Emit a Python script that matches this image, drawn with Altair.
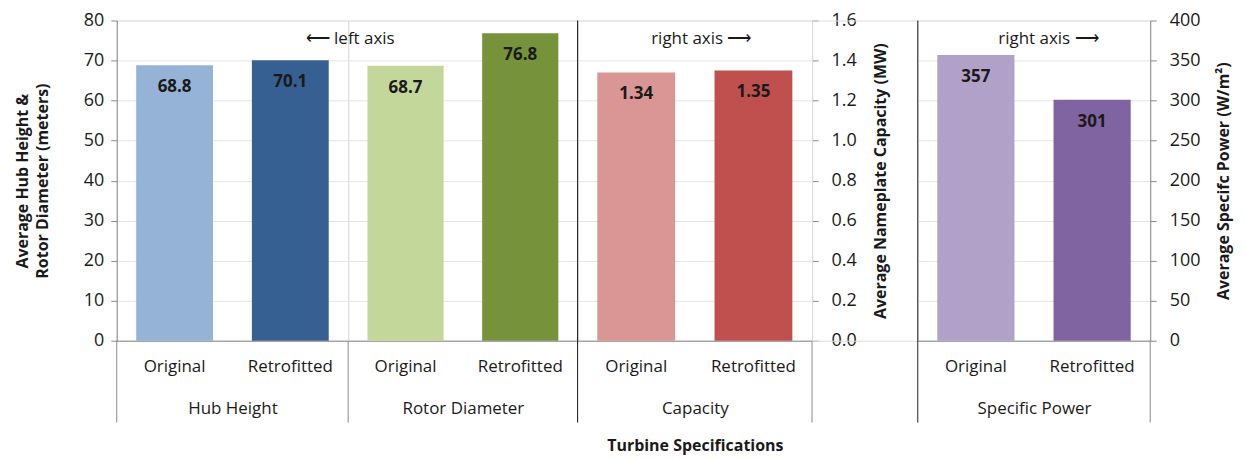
import altair as alt
import pandas as pd

types = ["Original", "Retrofitted"]
hub_height = [68.8, 70.1]
rotor_diameter = [68.7, 76.8]
capacity = [1.34, 1.35]
specific_power = [357, 301]

hub_colors = ["#95B3D7", "#366092"]
rotor_colors = ["#C4D79B", "#76933C"]
cap_colors = ["#DA9694", "#C0504D"]
sp_colors = ["#B1A0C7", "#8064A2"]

left_ticks = [0, 10, 20, 30, 40, 50, 60, 70, 80]
cap_ticks = [0.0, 0.2, 0.4, 0.6, 0.8, 1.0, 1.2, 1.4, 1.6]
sp_ticks = [0, 50, 100, 150, 200, 250, 300, 350, 400]

FONT = "Open Sans"
H = 321
GRID = "#e4e4e4"
AXC = "#8a8a8a"
TXT = "#1a1a1a"
one = pd.DataFrame({"a": [0]})


def panel(vals, colors, fmt, domain, group, yaxis, width, rules, notes):
    df = pd.DataFrame({"type": types, "value": vals, "color": colors})
    base = alt.Chart(df)
    x = alt.X("type:N", sort=types,
              scale=alt.Scale(paddingInner=0.336, paddingOuter=0.168),
              axis=alt.Axis(title=group, labelAngle=0, ticks=False, domainColor=AXC,
                            labelPadding=18, titlePadding=26, labelFontSize=17,
                            titleFontSize=17, titleFontWeight="normal", labelColor=TXT,
                            titleColor=TXT, labelFont=FONT, titleFont=FONT))
    y = alt.Y("value:Q", scale=alt.Scale(domain=domain, nice=False, zero=True), axis=yaxis)
    bars = base.mark_bar().encode(x=x, y=y, color=alt.Color("color:N", scale=None))
    labels = base.mark_text(baseline="top", dy=14, fontWeight="bold", fontSize=17,
                            font=FONT, color=TXT).encode(
        x=x, y=y, text=alt.Text("value:Q", format=fmt))
    layers = [bars, labels]
    for (rx, y0, y1, col) in rules:
        layers.append(alt.Chart(one).mark_rule(color=col, strokeWidth=1).encode(
            x=alt.value(rx), y=alt.value(y0), y2=alt.value(y1)))
    for (tx, ty, txt, size, weight) in notes:
        layers.append(alt.Chart(one).mark_text(fontSize=size, fontWeight=weight, font=FONT,
                                               color=TXT, baseline="middle", align="center").encode(
            x=alt.value(tx), y=alt.value(ty), text=alt.value(txt)))
    return alt.layer(*layers).properties(width=width, height=H)


def left_axis():
    return alt.Axis(values=left_ticks, title=["Average  Hub Height &", "Rotor Diameter (meters)"],
                    titleFontSize=16, titleFontWeight="bold", titleLineHeight=20,
                    titlePadding=33, labelFontSize=18, labelPadding=7, tickSize=6,
                    tickColor=AXC, domainColor=AXC, gridColor=GRID, labelColor=TXT,
                    titleColor=TXT, labelFont=FONT, titleFont=FONT)


grid_only = alt.Axis(values=left_ticks, labels=False, ticks=False, domain=False, title="",
                     gridColor=GRID)


def right_axis(vals, fmt, title):
    return alt.Axis(values=vals, format=fmt, orient="right", title=title, titleAngle=270,
                    titleBaseline="top", titleFontSize=16, titleFontWeight="bold",
                    titlePadding=16, labelFontSize=18, labelPadding=13, tickSize=6,
                    tickColor=AXC, domainColor=AXC, gridColor=GRID, labelColor=TXT,
                    titleColor=TXT, labelFont=FONT, titleFont=FONT)


p1 = panel(hub_height, hub_colors, ".1f", [0, 80], "Hub Height", left_axis(), 232,
           [(0, H, H + 82, AXC)], [])
p2 = panel(rotor_diameter, rotor_colors, ".1f", [0, 80], "Rotor Diameter", grid_only, 230,
           [(0, H, H + 82, AXC)], [(2, 19, "\u27f5 left axis", 17, "normal")])
p3 = panel(capacity, cap_colors, ".2f", [0, 1.6], "Capacity",
           right_axis(cap_ticks, ".1f", "Average  Nameplate Capacity (MW)"), 235,
           [(0, 0, H + 82, "#111111"), (235, H, H + 82, AXC)],
           [(124, 19, "right axis \u27f6", 17, "normal"),
            (118, H + 106, "Turbine Specifications", 16, "bold")])
spacer = alt.Chart(one).mark_point(opacity=0).encode(
    x=alt.value(0), y=alt.value(0)).properties(width=106, height=H)
p4 = panel(specific_power, sp_colors, "d", [0, 400], "Specific Power",
           right_axis(sp_ticks, "d", "Average  Specifc Power (W/m\u00b2)"), 233,
           [(0, 0, H + 82, "#222222"), (233, H, H + 82, AXC)],
           [(131, 19, "right axis \u27f6", 17, "normal")])

chart = alt.hconcat(p1, p2, p3, spacer, p4, spacing=0, bounds="flush").properties(
    padding={"left": 5, "top": 2, "right": 5, "bottom": 0}
).configure_view(stroke=None).configure(font=FONT)

chart.save("out.html", embed_options={"renderer": "svg", "actions": False})
